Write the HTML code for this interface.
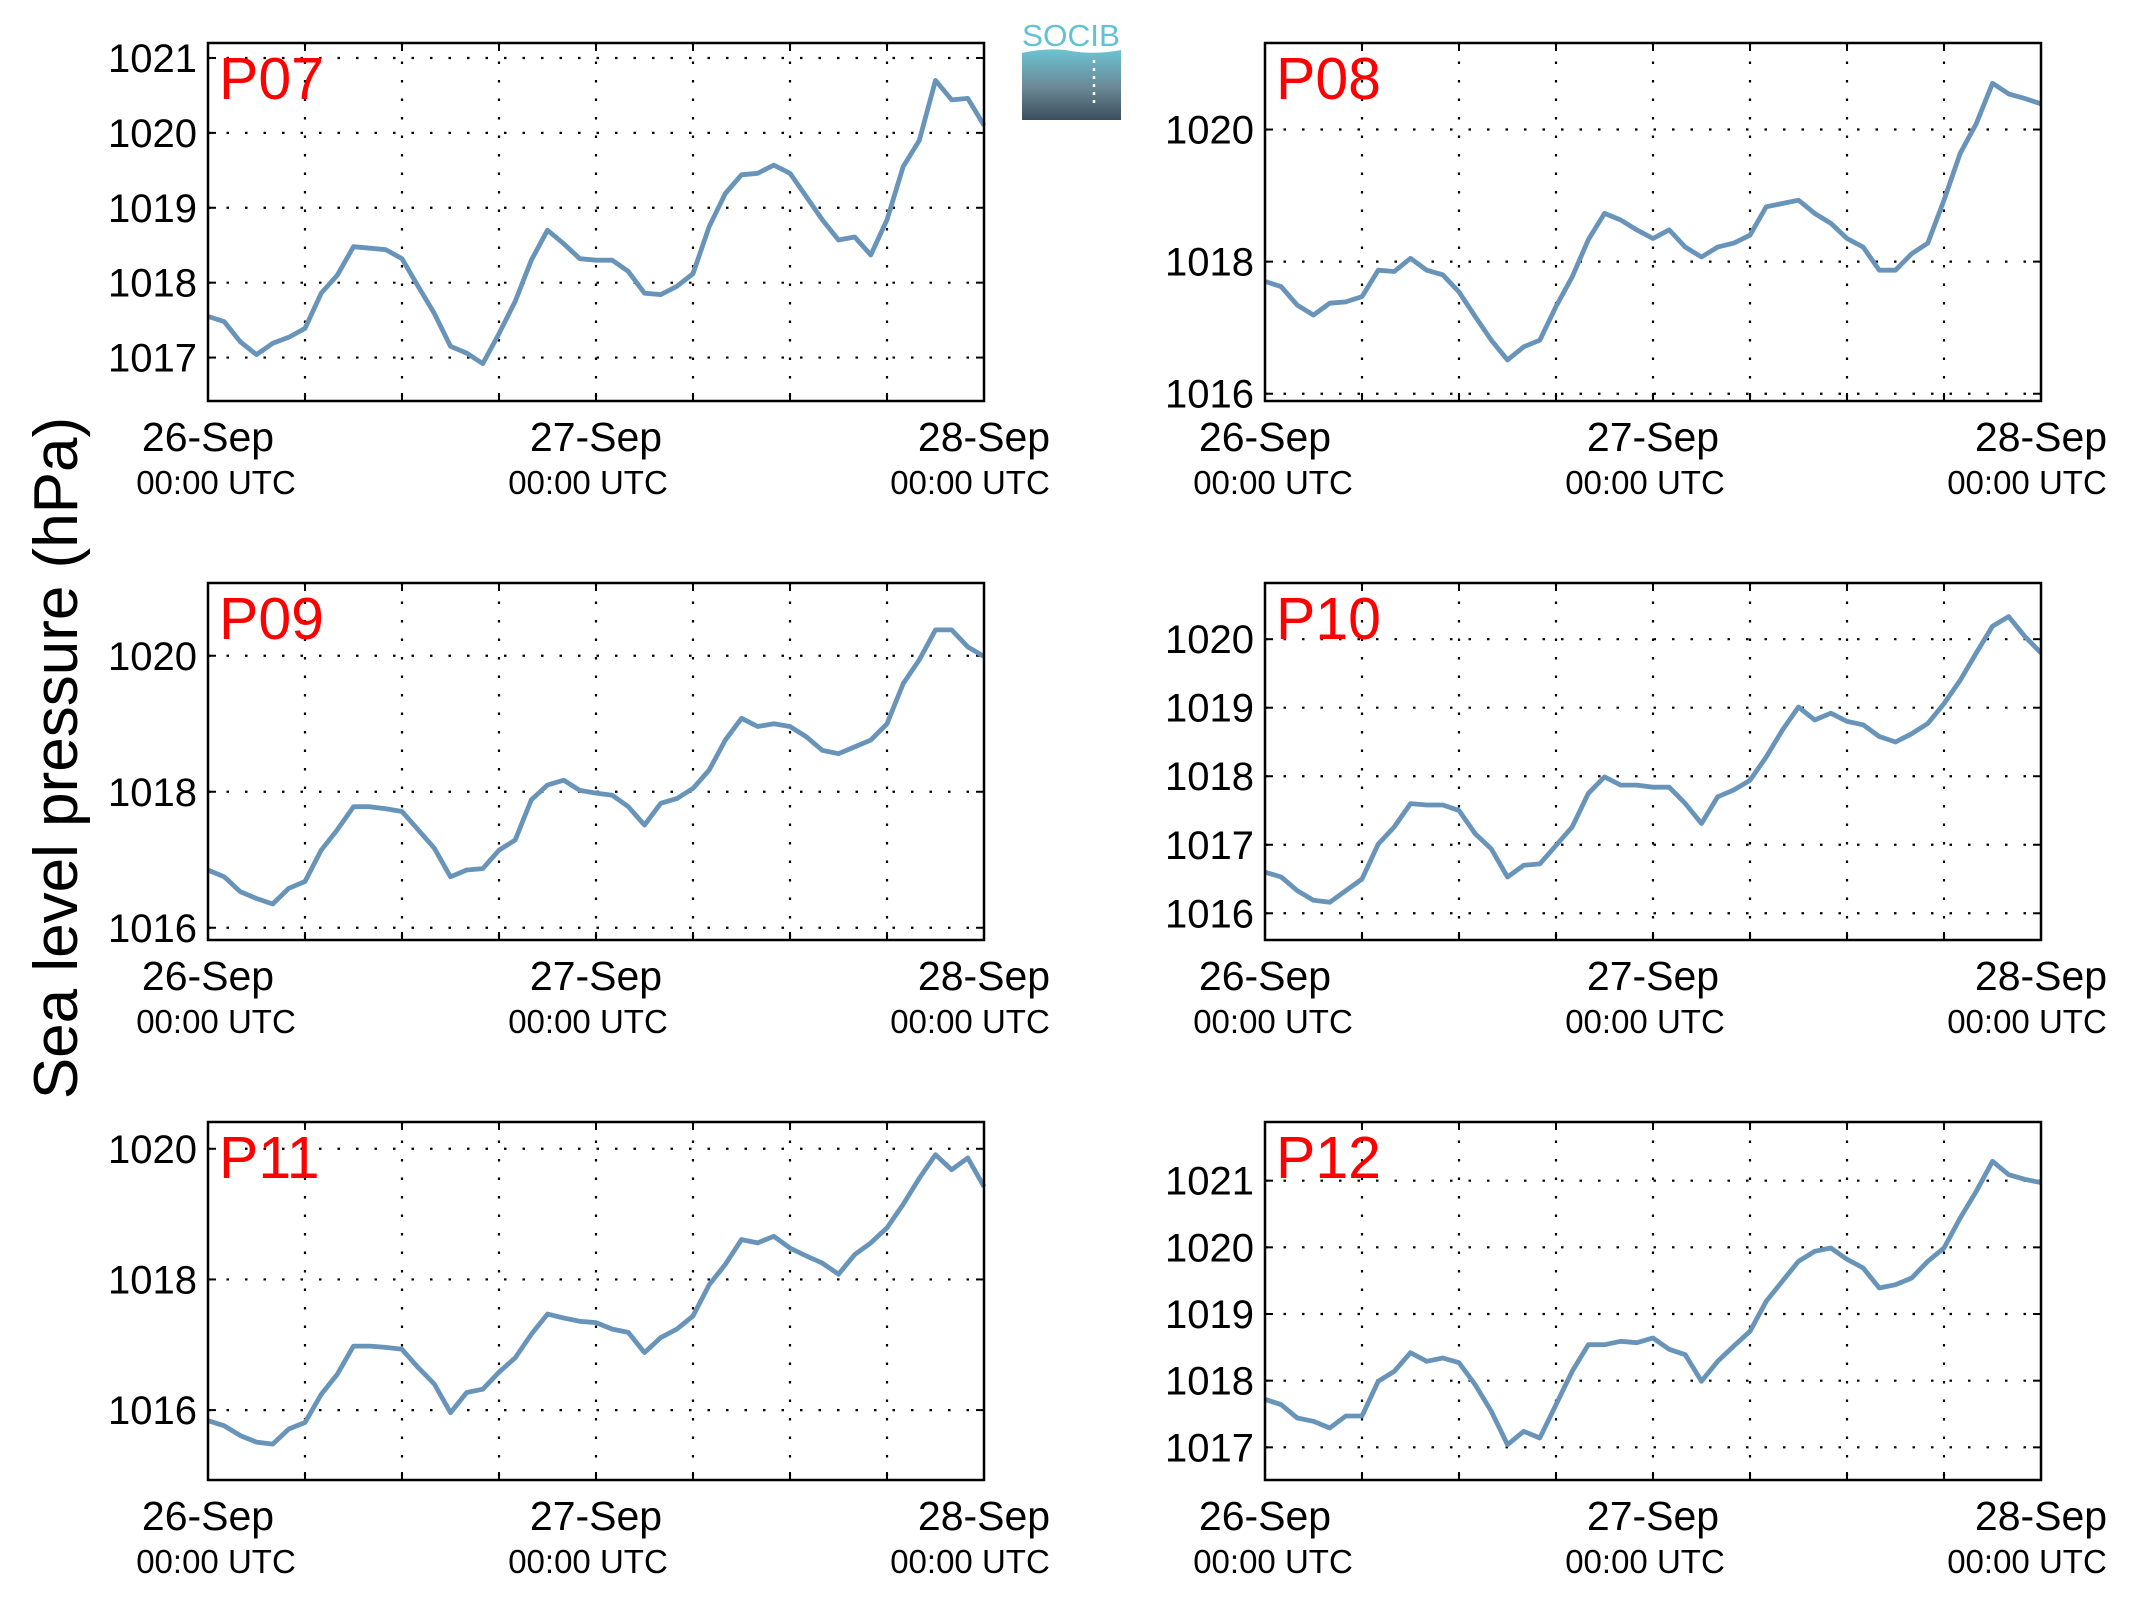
<!DOCTYPE html>
<html><head><meta charset="utf-8">
<style>
html,body{margin:0;padding:0;background:#fff;}
svg{display:block;}
text{font-family:"Liberation Sans",Arial,sans-serif;}
</style></head>
<body>
<svg id="fig" width="2133" height="1608" viewBox="0 0 2133 1608" xmlns="http://www.w3.org/2000/svg">
  <rect width="2133" height="1608" fill="#fff"/>
  <g>
    <defs>
      <linearGradient id="lg" x1="0" y1="0" x2="0" y2="1">
        <stop offset="0" stop-color="#6cc3d3"/>
        <stop offset="0.55" stop-color="#6a8794"/>
        <stop offset="1" stop-color="#3a4f5c"/>
      </linearGradient>
    </defs>
    <text x="1071" y="46" font-size="31" fill="#62c2d4" text-anchor="middle" textLength="98" lengthAdjust="spacingAndGlyphs">SOCIB</text>
    <path d="M1022,53 Q1050,47 1071,51 Q1095,55 1121,50 L1121,120 L1022,120 Z" fill="url(#lg)"/>
    <line x1="1094" y1="60" x2="1094" y2="106" stroke="#fff" stroke-width="2.5" stroke-dasharray="3 5"/>
  </g>
  <text transform="translate(77,758) rotate(-90)" font-size="62" text-anchor="middle" fill="#000">Sea level pressure (hPa)</text>
  <g id="panels"></g>
</svg>
<script>
const hours = [0,1,2,3,4,5,6,7,8,9,10,11,12,13,14,15,16,17,18,19,20,21,22,23,24,25,26,27,28,29,30,31,32,33,34,35,36,37,38,39,40,41,42,43,44,45,46,47,48];
const xTickLabels = ["26-Sep","27-Sep","28-Sep"];
const xTickHours = [0,24,48];
const stationNames = ["P07","P08","P09","P10","P11","P12"];
const valuesP07 = [1017.55,1017.48,1017.21,1017.04,1017.19,1017.27,1017.39,1017.86,1018.10,1018.48,1018.46,1018.44,1018.32,1017.95,1017.59,1017.15,1017.06,1016.92,1017.32,1017.75,1018.30,1018.70,1018.52,1018.32,1018.30,1018.30,1018.15,1017.86,1017.84,1017.95,1018.12,1018.75,1019.19,1019.44,1019.46,1019.57,1019.46,1019.15,1018.84,1018.57,1018.61,1018.37,1018.84,1019.55,1019.90,1020.70,1020.44,1020.46,1020.10];
const valuesP08 = [1017.70,1017.62,1017.34,1017.19,1017.37,1017.39,1017.47,1017.87,1017.85,1018.05,1017.87,1017.80,1017.54,1017.17,1016.81,1016.51,1016.71,1016.81,1017.32,1017.77,1018.33,1018.73,1018.63,1018.48,1018.35,1018.48,1018.22,1018.07,1018.22,1018.28,1018.40,1018.83,1018.88,1018.93,1018.73,1018.58,1018.35,1018.22,1017.87,1017.87,1018.12,1018.28,1018.93,1019.64,1020.09,1020.70,1020.54,1020.47,1020.39];
const valuesP09 = [1016.85,1016.75,1016.53,1016.43,1016.35,1016.58,1016.68,1017.14,1017.44,1017.78,1017.78,1017.75,1017.71,1017.44,1017.17,1016.75,1016.85,1016.87,1017.14,1017.29,1017.88,1018.10,1018.17,1018.02,1017.98,1017.95,1017.78,1017.51,1017.83,1017.90,1018.05,1018.32,1018.76,1019.08,1018.96,1019.00,1018.96,1018.81,1018.61,1018.56,1018.66,1018.76,1019.00,1019.59,1019.94,1020.38,1020.38,1020.13,1019.99];
const valuesP10 = [1016.60,1016.53,1016.33,1016.19,1016.16,1016.33,1016.50,1017.01,1017.26,1017.60,1017.58,1017.58,1017.50,1017.16,1016.94,1016.53,1016.70,1016.72,1016.99,1017.26,1017.75,1017.99,1017.87,1017.87,1017.84,1017.84,1017.60,1017.31,1017.70,1017.80,1017.94,1018.28,1018.67,1019.01,1018.82,1018.92,1018.80,1018.75,1018.58,1018.50,1018.62,1018.77,1019.06,1019.40,1019.80,1020.19,1020.33,1020.04,1019.80];
const valuesP11 = [1015.84,1015.76,1015.61,1015.51,1015.48,1015.71,1015.81,1016.24,1016.55,1016.98,1016.98,1016.96,1016.93,1016.65,1016.40,1015.96,1016.27,1016.32,1016.58,1016.80,1017.16,1017.47,1017.41,1017.36,1017.34,1017.24,1017.19,1016.88,1017.11,1017.24,1017.44,1017.92,1018.23,1018.61,1018.56,1018.66,1018.48,1018.36,1018.25,1018.08,1018.38,1018.56,1018.79,1019.15,1019.55,1019.91,1019.68,1019.86,1019.42];
const valuesP12 = [1017.72,1017.64,1017.44,1017.39,1017.29,1017.47,1017.47,1017.99,1018.14,1018.42,1018.29,1018.34,1018.27,1017.94,1017.54,1017.04,1017.24,1017.14,1017.64,1018.14,1018.54,1018.54,1018.59,1018.57,1018.64,1018.47,1018.39,1017.99,1018.29,1018.52,1018.74,1019.19,1019.49,1019.79,1019.94,1019.99,1019.82,1019.69,1019.39,1019.44,1019.54,1019.79,1019.99,1020.44,1020.84,1021.29,1021.09,1021.02,1020.97];
const yTicksP07 = [1017,1018,1019,1020,1021];
const yTicksP08 = [1016,1018,1020];
const yTicksP09 = [1016,1018,1020];
const yTicksP10 = [1016,1017,1018,1019,1020];
const yTicksP11 = [1016,1018,1020];
const yTicksP12 = [1017,1018,1019,1020,1021];
const yMinP = [1016.42,1015.89,1015.82,1015.61,1014.93,1016.51];
const yMaxP = [1021.2,1021.31,1021.07,1020.82,1020.41,1021.88];

const allValues = [valuesP07,valuesP08,valuesP09,valuesP10,valuesP11,valuesP12];
const allTicks = [yTicksP07,yTicksP08,yTicksP09,yTicksP10,yTicksP11,yTicksP12];
const colL = [208,1265], colR = [984,2041];
const rowT = [43,583,1122], rowB = [401,940,1480];
const utcShift = [8,-8,-14];
const NS = "http://www.w3.org/2000/svg";
const root = document.getElementById('panels');
function mk(tag, attrs, parent){
  const e = document.createElementNS(NS, tag);
  for (const k in attrs) e.setAttribute(k, attrs[k]);
  parent.appendChild(e);
  return e;
}
for (let p = 0; p < 6; p++){
  const c = p % 2, r = Math.floor(p / 2);
  const L = colL[c], R = colR[c], T = rowT[r], B = rowB[r];
  const x = h => L + (h / 48) * (R - L);
  const y = v => B - (v - yMinP[p]) / (yMaxP[p] - yMinP[p]) * (B - T);
  const g = mk('g', {}, root);
  
  
  for (let h = 6; h < 48; h += 6){
    const gl = mk('line', {x1:x(h), x2:x(h), y1:T, y2:B, stroke:'#000', 'stroke-width':2.2, 'stroke-dasharray':'2.5 16'}, g);
    
    
    mk('line', {x1:x(h), x2:x(h), y1:T, y2:T+8, stroke:'#000', 'stroke-width':2}, g);
    mk('line', {x1:x(h), x2:x(h), y1:B, y2:B-8, stroke:'#000', 'stroke-width':2}, g);
  }
  allTicks[p].forEach(v => {
    const gl = mk('line', {x1:L, x2:R, y1:y(v), y2:y(v), stroke:'#000', 'stroke-width':2.2, 'stroke-dasharray':'2.5 16'}, g);
    
    
    mk('line', {x1:L, x2:L+8, y1:y(v), y2:y(v), stroke:'#000', 'stroke-width':2}, g);
    mk('line', {x1:R, x2:R-8, y1:y(v), y2:y(v), stroke:'#000', 'stroke-width':2}, g);
    const t = mk('text', {x:L-11, y:y(v)+14, 'font-size':40, 'text-anchor':'end', fill:'#000'}, g);
    
    
    t.textContent = String(v);
  });
  xTickHours.forEach((h, i) => {
    const t1 = mk('text', {x:x(h), y:B+50, 'font-size':41, 'text-anchor':'middle', fill:'#000'}, g);
    
    
    t1.textContent = xTickLabels[i];
    const t2 = mk('text', {x:x(h) + utcShift[i], y:B+93, 'font-size':33, 'text-anchor':'middle', fill:'#000'}, g);
    
    
    t2.textContent = '00:00 UTC';
  });
  const vals = allValues[p];
  let d = '';
  vals.forEach((v, i) => { d += (i ? 'L' : 'M') + x(hours[i]).toFixed(1) + ',' + y(v).toFixed(1); });
  const line = mk('path', {d:d, fill:'none', stroke:'#6894ba', 'stroke-width':4.8, 'stroke-linejoin':'round'}, g);
  
  
  const fr = mk('rect', {x:L, y:T, width:R-L, height:B-T, fill:'none', stroke:'#000', 'stroke-width':2.5}, g);
  
  
  const st = mk('text', {x:L+11, y:T+56, 'font-size':59, fill:'#ff0000'}, g);
  
  
  st.textContent = stationNames[p];
}
</script>
</body></html>
